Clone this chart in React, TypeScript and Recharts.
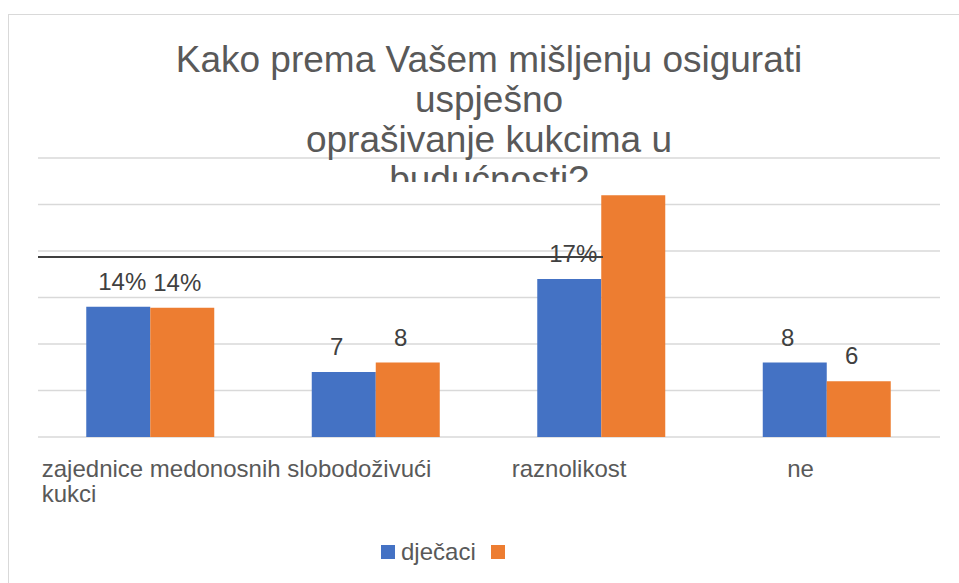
import React from 'react';
import { BarChart, Bar, XAxis, YAxis, CartesianGrid, Legend, LabelList } from 'recharts';

const categories = ['zajednice medonosnih kukci', 'slobodoživući', 'raznolikost', 'ne'];
const tickLines = [['zajednice medonosnih', 'kukci'], ['slobodoživući'], ['raznolikost'], ['ne']];
const tickShift = [-109, -89, -90, -40];

const boys = [14, 7, 17, 8];
const other = [13.9, 8, 26, 6];
const boysLabels = ['14%', '7', '17%', '8'];
const otherLabels = ['14%', '8', '', '6'];

const yTicks = [0, 5, 10, 15, 20, 25, 30];
const titleLines = ['Kako prema Vašem mišljenju osigurati', 'uspješno', 'oprašivanje kukcima u', 'budućnosti?'];

const BLUE = '#4472C4';
const ORANGE = '#ED7D31';
const FONT = '"Liberation Sans", Arial, sans-serif';

const data = categories.map((name, i) => ({
  name,
  boys: boys[i],
  other: other[i],
  boysLabel: boysLabels[i],
  otherLabel: otherLabels[i],
}));

const CategoryTick = ({ x, y, index }: any) => {
  const lines = tickLines[index] || [];
  const left = x + tickShift[index];
  return (
    <text x={left} y={y} textAnchor='start' fill='#595959' fontSize={24} fontFamily={FONT}>
      {lines.map((line, i) => (
        <tspan key={i} x={left} dy={i === 0 ? 40 : 25}>
          {line}
        </tspan>
      ))}
    </text>
  );
};

// percent labels sit a bit right of the numbers in the original
const makeValueLabel = (pctShift: number) => (props: any) => {
  const { x, y, width, value } = props;
  if (!value) return null;
  const shift = String(value).includes('%') ? pctShift : -7;
  return (
    <text
      x={x + width / 2 + shift}
      y={y - 17}
      textAnchor='middle'
      fill='#404040'
      fontSize={24}
      fontFamily={FONT}
    >
      {value}
    </text>
  );
};

const SquaresLegend = (props: any) => {
  const { payload } = props;
  return (
    <div style={{ display: 'flex', alignItems: 'center', height: 24, fontFamily: FONT, fontSize: 24, lineHeight: '24px', color: '#595959' }}>
      {payload.map((entry: any, i: number) => (
        <div key={`legend-${i}`} style={{ display: 'flex', alignItems: 'center', marginRight: 15 }}>
          <div style={{ width: 14, height: 14, backgroundColor: entry.color, marginRight: entry.value ? 6 : 0 }}></div>
          {entry.value ? <span>{entry.value}</span> : null}
        </div>
      ))}
    </div>
  );
};

export default function App() {
  return (
    <div style={{ position: 'absolute', left: 0, top: 0, width: 959, height: 583, overflow: 'hidden', background: '#fff' }}>
      <div
        style={{
          position: 'absolute',
          left: 8,
          top: 14,
          width: 1000,
          height: 600,
          borderLeft: '1px solid #d9d9d9',
          borderTop: '1px solid #d9d9d9',
        }}
      ></div>
      <BarChart
        width={959}
        height={583}
        data={data}
        margin={{ top: 158, right: 19, left: 38, bottom: 62 }}
        barCategoryGap='21.4%'
        barGap={0}
      >
        <CartesianGrid vertical={false} stroke='#d9d9d9' strokeWidth={1.5} />
        <XAxis
          dataKey='name'
          axisLine={false}
          tickLine={false}
          tickSize={0}
          tickMargin={0}
          height={60}
          interval={0}
          tick={<CategoryTick />}
        />
        <YAxis hide domain={[0, 30]} ticks={yTicks} />
        <Bar dataKey='boys' name='dječaci' fill={BLUE} isAnimationActive={false}>
          <LabelList dataKey='boysLabel' content={makeValueLabel(4)} />
        </Bar>
        <Bar dataKey='other' name='' fill={ORANGE} isAnimationActive={false}>
          <LabelList dataKey='otherLabel' content={makeValueLabel(-5)} />
        </Bar>
        <Legend
          content={<SquaresLegend />}
          verticalAlign='bottom'
          itemSorter='dataKey'
          wrapperStyle={{ position: 'absolute', left: 381, top: 540, bottom: 'auto', width: 'auto' }}
        />
      </BarChart>
      <div style={{ position: 'absolute', left: 38, top: 256, width: 565, height: 2, background: '#404040' }}></div>
      <div
        style={{
          position: 'absolute',
          left: 0,
          top: 40,
          width: 978,
          height: 142,
          overflow: 'hidden',
          textAlign: 'center',
          fontFamily: FONT,
          fontSize: 37,
          lineHeight: '40px',
          color: '#595959',
          pointerEvents: 'none',
        }}
      >
        {titleLines.map((line, i) => (
          <div key={i}>{line}</div>
        ))}
      </div>
    </div>
  );
}
